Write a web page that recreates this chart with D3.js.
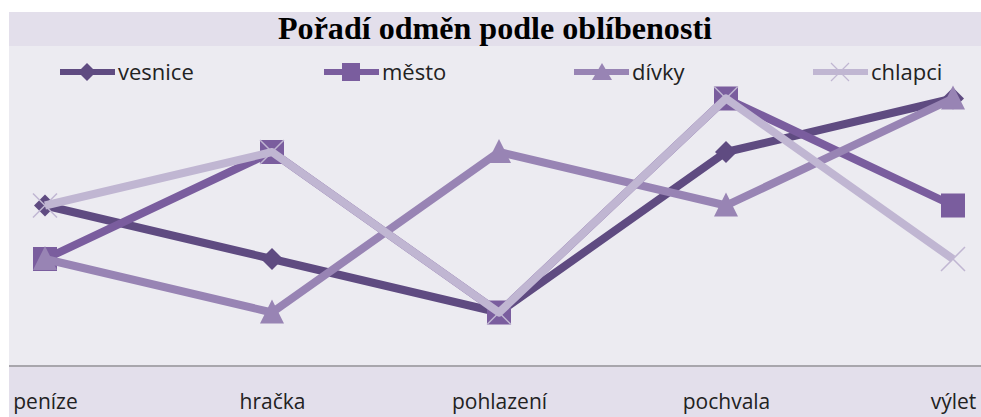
<!DOCTYPE html>
<html lang="cs">
	<head>
		<meta charset="utf-8">
		<title>Pořadí odměn podle oblíbenosti</title>
        <script type="text/javascript" src="https://cdn.jsdelivr.net/npm/d3@7"></script>
		<style type="text/css">
            body { margin: 0; background: #fff; }
            svg { display: block; }
        </style>
	</head>
	<body>
        <script type="text/javascript">
            // categories (rewards) and rank values per series
            var categories = ["peníze", "hračka", "pohlazení", "pochvala", "výlet"];
            var seriesNames = ["vesnice", "město", "dívky", "chlapci"];
            var vesnice = [3, 2, 1, 4, 5];
            var mesto = [2, 4, 1, 5, 3];
            var divky = [2, 1, 4, 3, 5];
            var chlapci = [3, 4, 1, 5, 2];
            var title = "Pořadí odměn podle oblíbenosti";

            var values = [vesnice, mesto, divky, chlapci];
            var colors = ["#5f4b81", "#7a5d9e", "#9884b4", "#c0b6d2"];
            var symbols = ["diamond", "square", "triangle", "cross"];

            var width = 981, height = 417;

            var svg = d3.select("body").append("svg")
                        .attr("width", width)
                        .attr("height", height);

            // backgrounds
            svg.append("rect").attr("x", 9).attr("y", 12).attr("width", width - 9).attr("height", 34).attr("fill", "#e3dfeb");
            svg.append("rect").attr("x", 9).attr("y", 46).attr("width", width - 9).attr("height", 320).attr("fill", "#ecebf1");
            svg.append("rect").attr("x", 9).attr("y", 366).attr("width", width - 9).attr("height", 51).attr("fill", "#e3dfeb");

            var xScale = d3.scalePoint()
                            .domain(categories)
                            .range([45, 953]);

            var yScale = d3.scaleLinear()
                            .domain([0, 6])
                            .range([366, 45]);

            // title
            svg.append("text")
                .attr("x", 495)
                .attr("y", 39)
                .attr("text-anchor", "middle")
                .attr("font-family", "Liberation Serif")
                .attr("font-weight", "bold")
                .attr("font-size", 31)
                .attr("textLength", 434)
                .attr("lengthAdjust", "spacingAndGlyphs")
                .text(title);

            // x axis
            var xAxis = d3.axisBottom(xScale).tickSize(0).tickPadding(28);
            var gx = svg.append("g")
                .attr("transform", "translate(0,366)")
                .call(xAxis);
            gx.select(".domain").remove();
            gx.append("line")
                .attr("x1", 9).attr("x2", width)
                .attr("stroke", "#a8a6ac").attr("stroke-width", 2);
            gx.selectAll(".tick text")
                .attr("font-family", "Open Sans")
                .attr("font-size", 21)
                .attr("fill", "#222");

            var line = d3.line()
                .x(function(d, i) { return xScale(categories[i]); })
                .y(function(d) { return yScale(d); });

            function drawMarker(g, type, color, x, y) {
                if (type === "diamond") {
                    g.append("path").attr("d", "M" + x + "," + (y - 11) + "L" + (x + 11) + "," + y + "L" + x + "," + (y + 11) + "L" + (x - 11) + "," + y + "Z").attr("fill", color);
                } else if (type === "square") {
                    g.append("rect").attr("x", x - 12).attr("y", y - 12).attr("width", 24).attr("height", 24).attr("fill", color);
                } else if (type === "triangle") {
                    g.append("path").attr("d", "M" + x + "," + (y - 13) + "L" + (x + 12) + "," + (y + 11) + "L" + (x - 12) + "," + (y + 11) + "Z").attr("fill", color);
                } else {
                    g.append("path").attr("d", "M" + (x - 12) + "," + (y - 12) + "L" + (x + 12) + "," + (y + 12) + "M" + (x + 12) + "," + (y - 12) + "L" + (x - 12) + "," + (y + 12))
                        .attr("stroke", color).attr("stroke-width", 1.5).attr("fill", "none");
                }
            }

            values.forEach(function(vals, s) {
                var g = svg.append("g");
                g.append("path")
                    .datum(vals)
                    .attr("d", line)
                    .attr("fill", "none")
                    .attr("stroke", colors[s])
                    .attr("stroke-width", 8)
                    .attr("stroke-linejoin", "round");
                vals.forEach(function(v, i) {
                    drawMarker(g, symbols[s], colors[s], xScale(categories[i]), yScale(v));
                });
            });

            // legend
            var legendX = [60, 324, 574, 813];
            seriesNames.forEach(function(name, s) {
                var g = svg.append("g").attr("transform", "translate(" + legendX[s] + ",72)");
                g.append("line").attr("x1", 0).attr("x2", 55).attr("stroke", colors[s]).attr("stroke-width", 6);
                if (symbols[s] === "diamond") {
                    g.append("path").attr("d", "M27,-9L36,0L27,9L18,0Z").attr("fill", colors[s]);
                } else if (symbols[s] === "square") {
                    g.append("rect").attr("x", 18).attr("y", -9).attr("width", 18).attr("height", 18).attr("fill", colors[s]);
                } else if (symbols[s] === "triangle") {
                    g.append("path").attr("d", "M28,-9L38,8L18,8Z").attr("fill", colors[s]);
                } else {
                    g.append("path").attr("d", "M18,-9L36,9M36,-9L18,9").attr("stroke", colors[s]).attr("stroke-width", 1.2);
                }
                g.append("text")
                    .attr("x", 58)
                    .attr("y", 8)
                    .attr("font-family", "Open Sans")
                    .attr("font-size", 22)
                    .attr("fill", "#222")
                    .text(name);
            });
		</script>
	</body>
</html>
